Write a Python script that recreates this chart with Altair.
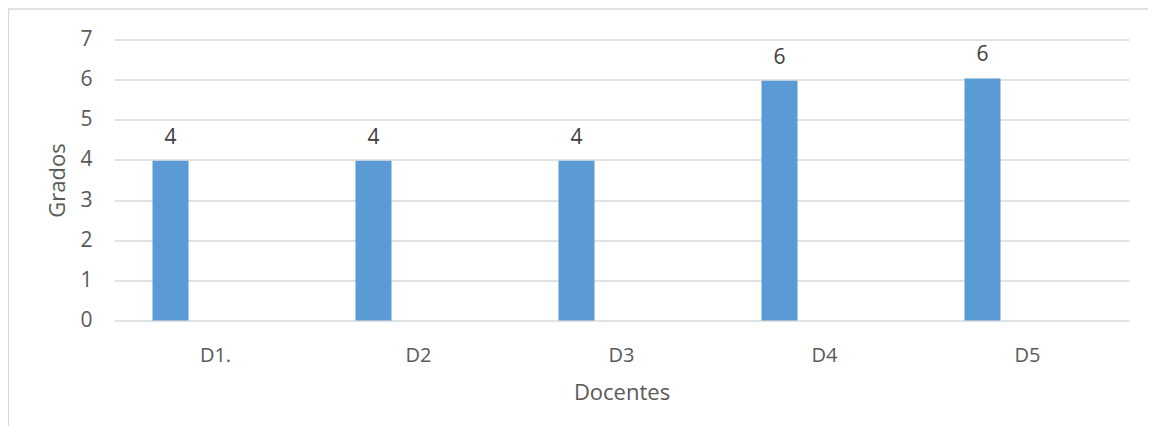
import altair as alt
import pandas as pd

categories = ["D1.", "D2", "D3", "D4", "D5"]
values = [3.98, 3.98, 3.98, 5.97, 6.03]
labels = ["4", "4", "4", "6", "6"]
y_ticks = [0, 1, 2, 3, 4, 5, 6, 7]

df = pd.DataFrame({"Docente": categories, "Grados": values, "Etiqueta": labels})

W, H = 1015, 281
FONT = "Open Sans"
TXT = "#595959"
FS = 21

x = alt.X(
    "Docente:N",
    sort=categories,
    scale=alt.Scale(paddingInner=0, paddingOuter=0),
    axis=alt.Axis(
        title="Docentes", labelAngle=0, domain=False, ticks=False, grid=False,
        labelPadding=41, labelBaseline="alphabetic",
        labelFont=FONT, labelFontSize=FS - 1, labelColor=TXT,
        titleFont=FONT, titleFontSize=FS + 1, titleColor=TXT, titleFontWeight="normal",
        titleBaseline="alphabetic", titleY=78.6,
    ),
)
y = alt.Y(
    "Grados:Q",
    scale=alt.Scale(domain=[0, 7], nice=False),
    axis=alt.Axis(
        values=y_ticks, format="d", title="Grados", domain=False, ticks=False,
        grid=True, gridColor="#D9D9D9", gridWidth=1.3,
        labelPadding=22, labelFont=FONT, labelFontSize=FS, labelColor=TXT,
        titleFont=FONT, titleFontSize=FS + 1, titleColor=TXT, titleFontWeight="normal",
        titleX=-57, titleBaseline="middle", titleAngle=270,
    ),
)

base = alt.Chart(df)
bars = base.mark_bar(width=36, xOffset=-45, color="#5B9BD5").encode(x=x, y=y)
text = base.mark_text(
    xOffset=-45, dy=-17, baseline="alphabetic", font=FONT, fontSize=21, color="#404040"
).encode(x=x, y=y, text="Etiqueta:N")

border = alt.Chart(pd.DataFrame({"k": [0]})).mark_rect(
    fill="transparent", stroke="#D9D9D9", strokeWidth=1.3
).encode(
    x=alt.value(-105.5), x2=alt.value(1200), y=alt.value(-30.5), y2=alt.value(600)
)

chart = alt.layer(border, bars, text).properties(
    width=W, height=H,
    autosize=alt.AutoSizeParams(type="none"),
    padding={"left": 106, "top": 31.5, "right": 19, "bottom": 105.5},
    background="white",
).configure_view(strokeWidth=0)

chart.save("out.html", embed_options={"renderer": "svg", "actions": False})
